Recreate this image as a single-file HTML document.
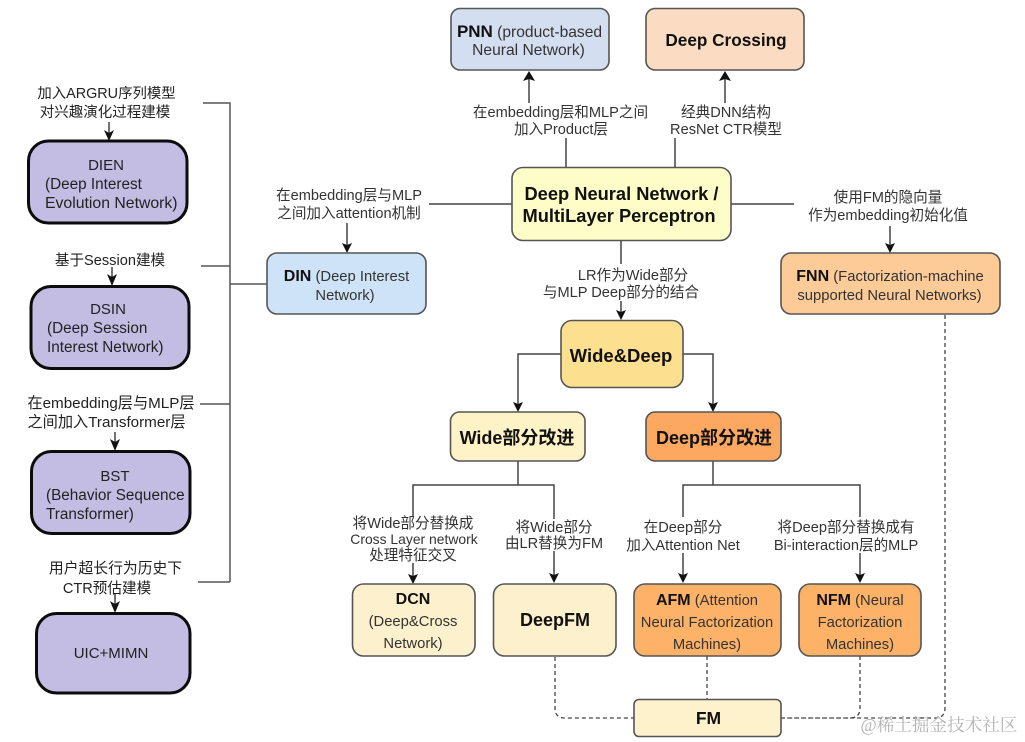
<!DOCTYPE html>
<html><head><meta charset="utf-8">
<style>
html,body{margin:0;padding:0;background:#fff;width:1025px;height:742px;overflow:hidden}
svg{display:block}
text{font-family:"Liberation Sans","Noto Sans CJK SC",sans-serif;fill:#2a2a2a;text-anchor:middle}
.l{font-size:14.6px;fill:#333}
.k{font-size:15.300px;fill:#222;text-anchor:start}
.c{font-size:15px;fill:#222}
.n{font-size:14.8px;fill:#333}
.b{font-weight:bold;fill:#111}
.node{stroke:#555;stroke-width:1.6}
.p{fill:#c3bde3;stroke:#0c0c0c;stroke-width:3}
.ln{fill:none;stroke:#444;stroke-width:1.5}
.br{fill:none;stroke:#555;stroke-width:1.5}
.d{fill:none;stroke:#444;stroke-width:1.3;stroke-dasharray:4 3}
.a{fill:#111;stroke:none}
</style></head>
<body>
<svg width="1025" height="742" viewBox="0 0 1025 742" xmlns="http://www.w3.org/2000/svg">
<!-- left bracket -->
<path class="br" d="M203 103H230V582M201 266H230M200 404H230M198 582H230M230 284H267"/>
<!-- left arrows -->
<path class="ln" d="M109 122V136M112 267V281M115 432V446M115 593V608"/>
<path class="a" d="M104 130L109 133L114 130L109 141ZM107 274L112 277L117 274L112 286ZM110 439L115 442L120 439L115 451ZM110 601L115 604L120 601L115 613Z"/>
<!-- left boxes -->
<rect class="p" x="28.500" y="141" width="158.500" height="82" rx="20"/>
<rect class="p" x="31" y="286.500" width="158" height="82" rx="20"/>
<rect class="p" x="31.500" y="451.500" width="158.500" height="82" rx="20"/>
<rect class="p" x="36.500" y="613.500" width="153.500" height="79.500" rx="20"/>
<text class="c" x="106.500" y="98" style="font-size:14.4px">加入ARGRU序列模型</text>
<text class="c" x="105" y="117" style="font-size:14.5px">对兴趣演化过程建模</text>
<text class="c" x="106" y="170">DIEN</text>
<text class="k" x="45" y="189">(Deep Interest</text>
<text class="k" x="45" y="208" style="font-size:15.8px">Evolution Network)</text>
<text class="c" x="110" y="265" style="font-size:14.6px">基于Session建模</text>
<text class="c" x="108" y="314">DSIN</text>
<text class="k" x="47" y="333">(Deep Session</text>
<text class="k" x="47" y="352">Interest Network)</text>
<text class="c" x="111" y="408" style="font-size:15.2px">在embedding层与MLP层</text>
<text class="c" x="106.500" y="427" style="font-size:15.2px">之间加入Transformer层</text>
<text class="c" x="115" y="481">BST</text>
<text class="k" x="46" y="500">(Behavior Sequence</text>
<text class="k" x="46" y="519">Transformer)</text>
<text class="c" x="115.500" y="573" style="font-size:14.8px">用户超长行为历史下</text>
<text class="c" x="107" y="593" style="font-size:14.6px">CTR预估建模</text>
<text class="c" x="111" y="658">UIC+MIMN</text>

<!-- main connectors -->
<path class="ln" d="M529 103V75M566 138V167M675 138V167"/>
<path class="ln" d="M725 103V75M512 204H429M347 223V250M731 204H794M890 226V251M621 241V264M621 301V318"/>
<path class="ln" d="M561 354H518V410M682 354H713V410M518 461V485H413V517M518 485H554V519M713 461V485H683V517M713 485H860V517"/>
<path class="ln" d="M413 563V582M554 551V581M683 553V581M860 553V581"/>
<path class="a" d="M529 71L535 81L529 79L523 81ZM725 71L731 81L725 79L719 81ZM347 253L342 243L347 245L352 243ZM890 253L885 243L890 245L895 243ZM621 320L616 310L621 312L626 310ZM518 412L513 402L518 404L523 402ZM713 412L708 402L713 404L718 402ZM413 584L408 574L413 576L418 574ZM554 583L549 573L554 575L559 573ZM683 583L678 573L683 575L688 573ZM860 583L855 573L860 575L865 573Z"/>
<!-- dashed -->
<path class="d" d="M555 657V708Q555 718 565 718H634M707 656V699M860 656V708Q860 718 850 718H781M945 315V708Q945 718 935 718H781"/>
<!-- nodes -->
<rect class="node" x="451" y="8.500" width="158" height="61.500" rx="9" fill="#d3dff0"/>
<rect class="node" x="646" y="8.500" width="158" height="61.500" rx="9" fill="#fbdcc2"/>
<rect class="node" x="512" y="167.500" width="219" height="73" rx="11" fill="#fdfdc8"/>
<rect class="node" x="267" y="253" width="159" height="61" rx="10" fill="#cfe3f8"/>
<rect class="node" x="781" y="253" width="219" height="61" rx="10" fill="#fccb98"/>
<rect class="node" x="561" y="320.500" width="122" height="67" rx="11" fill="#fde08f"/>
<rect class="node" x="450.500" y="412" width="134.500" height="49" rx="9" fill="#fdf3c6"/>
<rect class="node" x="646" y="412" width="135" height="49" rx="9" fill="#fca860"/>
<rect class="node" x="352.500" y="584" width="122.500" height="72" rx="11" fill="#fdf0cc"/>
<rect class="node" x="493.500" y="584" width="122.500" height="72" rx="11" fill="#fdf0cc"/>
<rect class="node" x="634" y="584" width="147" height="72" rx="11" fill="#feb268"/>
<rect class="node" x="799" y="584" width="122" height="72" rx="11" fill="#feb268"/>
<rect class="node" x="634" y="699.500" width="147" height="37" rx="5" fill="#fdf2cc"/>

<!-- node text -->
<text class="n" x="529.500" y="37" style="font-size:15.6px"><tspan class="b" font-size="17">PNN</tspan> (product-based</text>
<text class="n" x="528.500" y="55" style="font-size:15.6px">Neural Network)</text>
<text class="b" x="726" y="46" font-size="17.200">Deep Crossing</text>
<text class="b" x="621.500" y="200" font-size="18.300">Deep Neural Network /</text>
<text class="b" x="619" y="222" font-size="18.300">MultiLayer Perceptron</text>
<text class="n" x="346.500" y="281"><tspan class="b" font-size="16">DIN</tspan> (Deep Interest</text>
<text class="n" x="345" y="300">Network)</text>
<text class="n" x="890" y="281"><tspan class="b" font-size="16">FNN</tspan> (Factorization-machine</text>
<text class="n" x="889.500" y="300">supported Neural Networks)</text>
<text class="b" x="621" y="362" font-size="18.500">Wide&amp;Deep</text>
<text class="b" x="517" y="444" font-size="18">Wide部分改进</text>
<text class="b" x="714" y="444" font-size="18">Deep部分改进</text>
<text class="b" x="413" y="604" font-size="16">DCN</text>
<text class="n" x="413" y="626">(Deep&amp;Cross</text>
<text class="n" x="413" y="648">Network)</text>
<text class="b" x="555" y="626" font-size="18">DeepFM</text>
<text class="n" x="707" y="605"><tspan class="b" font-size="16">AFM</tspan> (Attention</text>
<text class="n" x="707" y="627">Neural Factorization</text>
<text class="n" x="707" y="649">Machines)</text>
<text class="n" x="860" y="605"><tspan class="b" font-size="16">NFM</tspan> (Neural</text>
<text class="n" x="860" y="627">Factorization</text>
<text class="n" x="860" y="649">Machines)</text>
<text class="b" x="708.500" y="724" font-size="17.500">FM</text>

<!-- connector labels -->
<text class="l" x="560.500" y="117">在embedding层和MLP之间</text>
<text class="l" x="561" y="134">加入Product层</text>
<text class="l" x="726" y="117">经典DNN结构</text>
<text class="l" x="726" y="134">ResNet CTR模型</text>
<text class="l" x="349" y="200">在embedding层与MLP</text>
<text class="l" x="349" y="218">之间加入attention机制</text>
<text class="l" x="888" y="202">使用FM的隐向量</text>
<text class="l" x="888" y="220">作为embedding初始化值</text>
<text class="l" x="633" y="280">LR作为Wide部分</text>
<text class="l" x="621" y="297">与MLP Deep部分的结合</text>
<text class="l" x="413" y="528">将Wide部分替换成</text>
<text class="l" x="414" y="544" style="font-size:13.900px">Cross Layer network</text>
<text class="l" x="413" y="560">处理特征交叉</text>
<text class="l" x="554" y="532">将Wide部分</text>
<text class="l" x="554" y="548">由LR替换为FM</text>
<text class="l" x="683" y="532">在Deep部分</text>
<text class="l" x="683" y="550">加入Attention Net</text>
<text class="l" x="846" y="532">将Deep部分替换成有</text>
<text class="l" x="846" y="550">Bi-interaction层的MLP</text>

<text x="939" y="731" font-size="17.600" style="font-family:'Liberation Serif','Noto Serif CJK SC',serif;fill:#b4b4b4">@稀土掘金技术社区</text>
</svg>
</body></html>
